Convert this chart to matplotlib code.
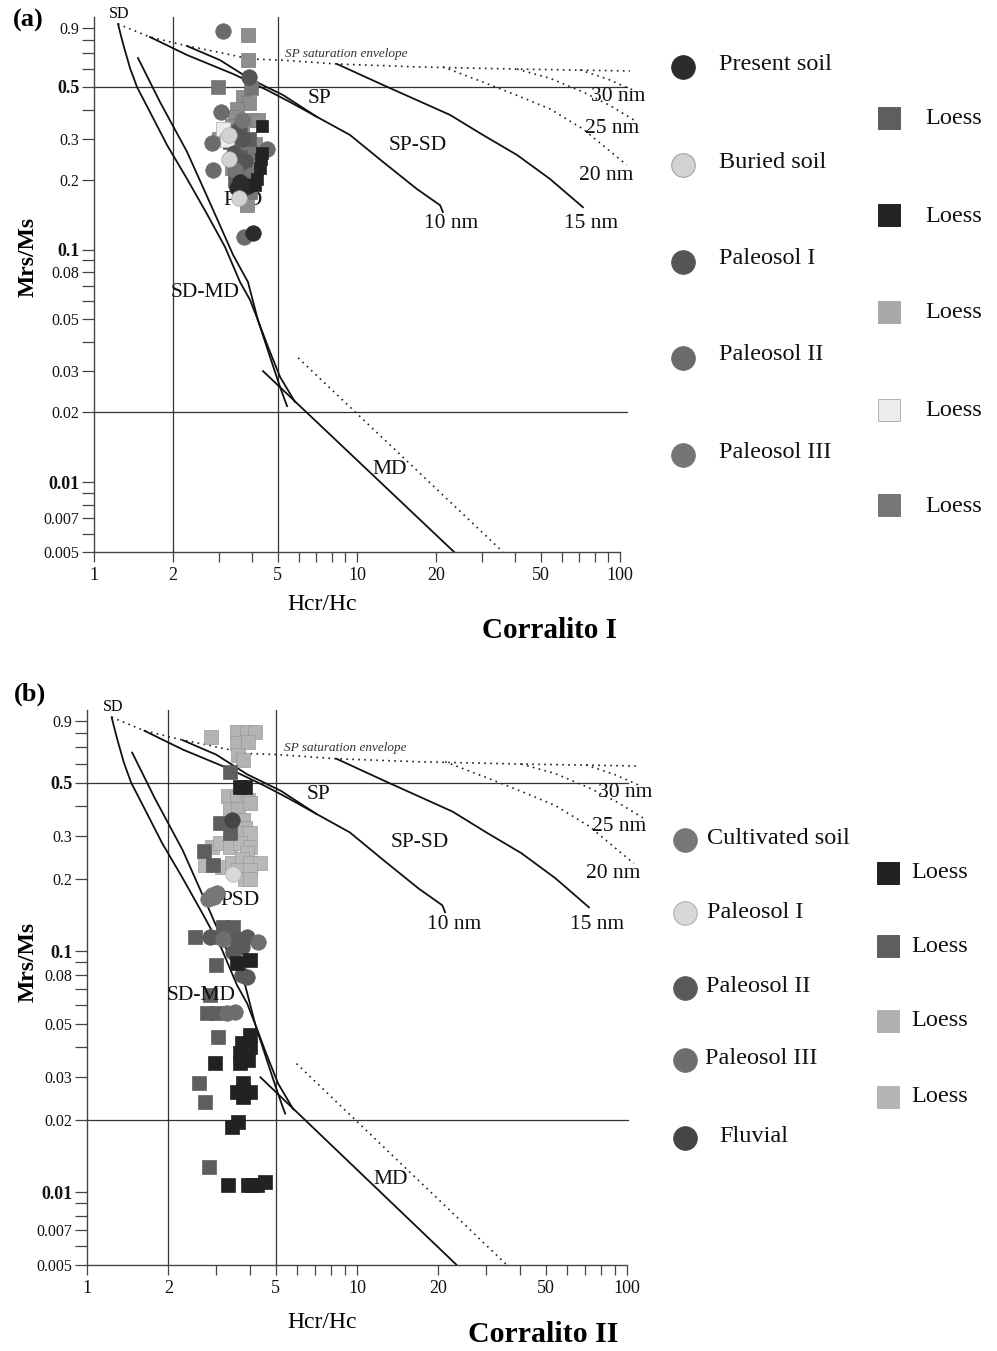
import numpy as np
import matplotlib
matplotlib.use("Agg")
import matplotlib.pyplot as plt

plt.rcParams['font.family'] = ['Liberation Serif', 'DejaVu Serif']

# ---------------- reference curves (Hcr/Hc, Mrs/Ms) ----------------
sd_md1_x = [1.234, 1.27, 1.30, 1.34, 1.37, 1.457, 1.633, 1.895, 2.26, 2.69, 3.15, 3.59, 3.92, 4.20, 4.59, 5.10, 5.81]
sd_md1_y = [0.933, 0.82, 0.743, 0.66, 0.604, 0.50, 0.390, 0.2815, 0.201, 0.142, 0.1025, 0.0725, 0.0607, 0.0497, 0.0381, 0.0283, 0.0221]
sd_md2_x = [1.47, 1.782, 2.26, 2.83, 3.38, 3.85, 4.20, 4.67, 5.10, 5.42]
sd_md2_y = [0.666, 0.431, 0.2626, 0.149, 0.0947, 0.0725, 0.0497, 0.0345, 0.0256, 0.0212]
md_x = [4.39, 23.4]
md_y = [0.030, 0.005]
md_dot_x = [5.97, 35.9]
md_dot_y = [0.0342, 0.005]
env_x = [1.234, 1.633, 2.18, 2.94, 3.92, 5.10, 8.39, 16.9, 40.6, 109]
env_y = [0.933, 0.820, 0.758, 0.707, 0.660, 0.653, 0.628, 0.610, 0.597, 0.586]
nm10_x = [1.633, 2.26, 3.38, 4.55, 5.56, 7.04, 9.40, 12.56, 16.9, 20.7, 21.2]
nm10_y = [0.820, 0.686, 0.569, 0.485, 0.431, 0.372, 0.311, 0.238, 0.182, 0.155, 0.145]
nm10b_x = [2.26, 3.01, 3.92, 5.23, 7.04]
nm10b_y = [0.750, 0.653, 0.541, 0.462, 0.372]
nm15_x = [8.39, 12.56, 22.6, 30.1, 40.6, 54.2, 72.3]
nm15_y = [0.628, 0.51, 0.379, 0.311, 0.255, 0.201, 0.152]
nm20_x = [21.2, 30.1, 40.6, 54.2, 72.3, 106]
nm20_y = [0.610, 0.525, 0.46, 0.402, 0.330, 0.231]
nm25_x = [40.6, 54.2, 72.3, 92.0, 116]
nm25_y = [0.597, 0.545, 0.476, 0.415, 0.354]
nm30_x = [70.5, 90.0, 112]
nm30_y = [0.592, 0.54, 0.485]

# ---------------- panel (a) data ----------------
a_present_x = [3.50, 3.69, 3.85, 4.02, 3.60]
a_present_y = [0.183, 0.183, 0.188, 0.118, 0.195]
a_buried_x = [3.26, 3.56, 3.25]
a_buried_y = [0.245, 0.166, 0.31]
a_pal1_x = [3.88, 3.55, 3.70, 3.40, 3.75]
a_pal1_y = [0.552, 0.33, 0.30, 0.26, 0.24]
a_pal2_x = [3.09, 3.04, 2.81, 2.83, 4.55, 3.72]
a_pal2_y = [0.87, 0.392, 0.287, 0.22, 0.27, 0.113]
a_pal3_x = [3.45, 3.65, 3.95]
a_pal3_y = [0.22, 0.36, 0.21]
a_loess1_x = [3.45, 3.75, 3.60, 3.30, 3.90]
a_loess1_y = [0.20, 0.22, 0.25, 0.29, 0.30]
a_loess2_x = [4.35, 4.35, 4.30, 4.28, 4.17, 4.10]
a_loess2_y = [0.339, 0.26, 0.245, 0.225, 0.202, 0.19]
a_loess3_x = [3.85, 3.85, 3.69, 3.88, 3.50, 3.44, 3.99, 4.20, 3.35, 3.65, 3.00, 3.35, 3.60,
              4.09, 3.65, 3.50, 3.82, 3.44, 3.65, 3.35, 3.85, 3.69, 3.85, 3.69, 3.82]
a_loess3_y = [0.839, 0.651, 0.453, 0.428, 0.403, 0.373, 0.362, 0.362, 0.339, 0.339, 0.30, 0.30, 0.30,
              0.284, 0.284, 0.279, 0.27, 0.26, 0.25, 0.225, 0.225, 0.214, 0.214, 0.194, 0.155]
a_loess4_x = [3.10, 3.20]
a_loess4_y = [0.33, 0.295]
a_loess5_x = [2.96, 3.95, 3.45, 3.70, 3.95, 3.55, 3.80, 3.92]
a_loess5_y = [0.50, 0.495, 0.32, 0.27, 0.26, 0.23, 0.188, 0.176]

# ---------------- panel (b) data ----------------
b_cult_x = [2.81, 2.91, 3.03, 2.95]
b_cult_y = [0.164, 0.171, 0.175, 0.168]
b_pal1_x = [3.48]
b_pal1_y = [0.208]
b_pal2_x = [2.86, 3.60, 3.92, 3.76, 3.48, 3.76, 3.92]
b_pal2_y = [0.114, 0.112, 0.115, 0.104, 0.0995, 0.080, 0.078]
b_pal3_x = [4.31, 3.31, 3.54, 3.20]
b_pal3_y = [0.109, 0.0556, 0.056, 0.112]
b_fluv_x = [3.45]
b_fluv_y = [0.35]
b_loess1_x = [3.70, 3.86, 4.03, 3.60, 4.03, 3.76, 4.03, 3.70, 3.96, 3.70, 2.99, 3.79, 3.60, 4.03,
              3.79, 3.79, 3.63, 3.45, 3.34, 3.96, 4.27, 4.58, 4.10]
b_loess1_y = [0.48, 0.48, 0.092, 0.0896, 0.045, 0.0417, 0.040, 0.038, 0.0355, 0.0345, 0.0345, 0.0284,
              0.0261, 0.0261, 0.0249, 0.0266, 0.0196, 0.0187, 0.0107, 0.0107, 0.0107, 0.011, 0.0107]
b_loess2_x = [3.39, 3.12, 3.39, 2.72, 2.93, 2.515, 3.20, 3.48, 3.03, 3.31, 3.01, 2.86, 2.79, 3.03,
              3.06, 2.60, 2.74, 2.84]
b_loess2_y = [0.555, 0.34, 0.31, 0.26, 0.228, 0.115, 0.126, 0.126, 0.115, 0.115, 0.088, 0.066,
              0.0556, 0.0556, 0.044, 0.0284, 0.0237, 0.0128]
b_loess3_x = [2.89, 3.60, 3.92, 4.20, 3.60, 3.96, 3.63, 3.79, 3.34, 3.60, 3.96, 3.39, 3.63, 4.03,
              3.79, 3.86, 3.63]
b_loess3_y = [0.77, 0.81, 0.81, 0.81, 0.73, 0.74, 0.65, 0.62, 0.44, 0.43, 0.425, 0.39, 0.39, 0.41,
              0.35, 0.325, 0.31]
b_loess4_x = [4.03, 2.91, 3.12, 3.39, 3.70, 4.03, 3.92, 2.74, 3.17, 3.45, 3.76, 4.03, 4.38, 3.63,
              4.03, 3.86, 4.03]
b_loess4_y = [0.31, 0.27, 0.28, 0.27, 0.28, 0.27, 0.256, 0.228, 0.224, 0.233, 0.24, 0.233, 0.233,
              0.218, 0.218, 0.20, 0.20]

x_major = [1, 2, 5, 10, 20, 50, 100]
x_minor = [3, 4, 6, 7, 8, 9, 30, 40, 60, 70, 80, 90]
y_major = [0.005, 0.007, 0.01, 0.02, 0.03, 0.05, 0.08, 0.1, 0.2, 0.3, 0.5, 0.9]
y_labels = ['0.005', '0.007', '0.01', '0.02', '0.03', '0.05', '0.08', '0.1', '0.2', '0.3', '0.5', '0.9']
y_bold = ['0.01', '0.1', '0.5']
y_minor = [0.006, 0.008, 0.009, 0.04, 0.06, 0.07, 0.09, 0.4, 0.6, 0.7, 0.8]

W, H = 997, 1351
fig = plt.figure(figsize=(W / 100, H / 100), dpi=100)


def rect(left, right, top, bottom):
    return [left / W, 1 - bottom / H, (right - left) / W, (bottom - top) / H]


AX_COL = '#444444'


def make_axes(r, hline_end):
    ax = fig.add_axes(r)
    ax.set_xscale('log')
    ax.set_yscale('log')
    ax.set_xlim(1, 100)
    ax.set_ylim(0.005, 1.0)
    ax.patch.set_alpha(0)
    for s in ['top', 'right']:
        ax.spines[s].set_visible(False)
    for s in ['left', 'bottom']:
        ax.spines[s].set_color(AX_COL)
        ax.spines[s].set_linewidth(1.0)
    ax.set_xticks(x_major)
    ax.set_xticks(x_minor, minor=True)
    ax.set_xticklabels([str(v) for v in x_major], fontsize=13)
    ax.set_yticks(y_major)
    ax.set_yticks(y_minor, minor=True)
    ax.set_yticklabels(y_labels, fontsize=11.5)
    for t in ax.get_yticklabels():
        if t.get_text() in y_bold:
            t.set_fontweight('bold')
            t.set_fontsize(13)
    ax.tick_params(which='both', direction='out', width=0.9, color=AX_COL, labelcolor='#111111')
    ax.tick_params(axis='x', which='both', length=7.5, pad=3)
    ax.tick_params(axis='y', which='both', length=8.5, pad=2)
    # reference grid lines
    for xv in [2, 5]:
        ax.axvline(xv, color='#333333', lw=0.9, zorder=1)
    for yv in [0.5, 0.02]:
        ax.plot([1, hline_end], [yv, yv], color='#333333', lw=0.9, zorder=1, clip_on=False)
    # curves
    kw = dict(color='#111111', lw=1.3, zorder=2, clip_on=False)
    dk = dict(color='#222222', lw=1.2, ls=(0, (1, 2.6)), zorder=2, clip_on=False)
    ax.plot(sd_md1_x, sd_md1_y, **kw)
    ax.plot(sd_md2_x, sd_md2_y, **kw)
    ax.plot(md_x, md_y, **kw)
    ax.plot(md_dot_x, md_dot_y, **dk)
    ax.plot(env_x, env_y, **dk)
    ax.plot(nm10_x, nm10_y, **kw)
    ax.plot(nm10b_x, nm10b_y, **kw)
    ax.plot(nm15_x, nm15_y, **kw)
    ax.plot(nm20_x, nm20_y, **dk)
    ax.plot(nm25_x, nm25_y, **dk)
    ax.plot(nm30_x, nm30_y, **dk)
    # annotations
    tk = dict(fontsize=15.5, ha='center', va='center', color='#111111', zorder=6)
    ax.text(1.25, 1.03, 'SD', fontsize=11.5, ha='center', va='center', clip_on=False)
    ax.text(7.23, 0.448, 'SP', **tk)
    ax.text(17.06, 0.281, 'SP-SD', **tk)
    ax.text(22.8, 0.129, '10 nm', **tk)
    ax.text(77.6, 0.129, '15 nm', **tk)
    ax.text(98.3, 0.453, '30 nm', clip_on=False, **tk)
    ax.text(93.3, 0.330, '25 nm', clip_on=False, **tk)
    ax.text(88.8, 0.209, '20 nm', clip_on=False, **tk)
    ax.text(3.69, 0.163, 'PSD', fontsize=15.5, ha='center', va='center', color='#111111', zorder=2)
    ax.text(2.64, 0.0656, 'SD-MD', **tk)
    ax.text(13.35, 0.0113, 'MD', **tk)
    ax.text(9.08, 0.693, 'SP saturation envelope', fontsize=9.5, style='italic',
            ha='center', va='center', color='#333333')
    return ax


def pts(ax, x, y, marker, color, size, ec=None):
    ax.scatter(x, y, s=size, marker=marker, c=color,
               edgecolors=ec if ec else color, linewidths=0.5, zorder=4, clip_on=False)


# ---------------- panel (a) ----------------
axa = make_axes(rect(94, 620, 17, 552), 106)
SQ, CI = 115, 125
pts(axa, a_loess3_x, a_loess3_y, 's', '#8e8e8e', SQ, '#7a7a7a')
pts(axa, a_loess5_x, a_loess5_y, 's', '#767676', SQ)
pts(axa, a_loess1_x, a_loess1_y, 's', '#5e5e5e', SQ)
pts(axa, a_loess4_x, a_loess4_y, 's', '#ececec', SQ, '#b0b0b0')
pts(axa, a_pal1_x, a_pal1_y, 'o', '#555555', CI)
pts(axa, a_pal2_x, a_pal2_y, 'o', '#6b6b6b', CI)
pts(axa, a_pal3_x, a_pal3_y, 'o', '#757575', CI)
pts(axa, a_present_x, a_present_y, 'o', '#2b2b2b', CI)
pts(axa, a_buried_x, a_buried_y, 'o', '#d2d2d2', CI, '#aaaaaa')
pts(axa, a_loess2_x, a_loess2_y, 's', '#232323', 80)

# ---------------- panel (b) ----------------
axb = make_axes(rect(87, 627, 710, 1265), 101)
pts(axb, b_loess3_x, b_loess3_y, 's', '#b3b3b3', SQ, '#999999')
pts(axb, b_loess4_x, b_loess4_y, 's', '#b8b8b8', SQ, '#9c9c9c')
pts(axb, b_loess2_x, b_loess2_y, 's', '#5e5e5e', SQ)
pts(axb, b_cult_x, b_cult_y, 'o', '#777777', CI)
pts(axb, b_pal1_x, b_pal1_y, 'o', '#d8d8d8', CI, '#b0b0b0')
pts(axb, b_pal2_x, b_pal2_y, 'o', '#5a5a5a', CI)
pts(axb, b_pal3_x, b_pal3_y, 'o', '#6e6e6e', CI)
pts(axb, b_fluv_x, b_fluv_y, 'o', '#454545', CI)
pts(axb, b_loess1_x, b_loess1_y, 's', '#222222', SQ)

# ---------------- overlay: legends and labels ----------------
ov = fig.add_axes([0, 0, 1, 1])
ov.set_xlim(0, W)
ov.set_ylim(H, 0)
ov.axis('off')
ov.patch.set_alpha(0)

LT = dict(fontsize=17.5, ha='left', va='center', color='#111111')

a_circ_names = ['Present soil', 'Buried soil', 'Paleosol I', 'Paleosol II', 'Paleosol III']
a_circ_cols = ['#2b2b2b', '#d2d2d2', '#555555', '#6b6b6b', '#757575']
a_circ_rows = [67, 165, 262, 358, 455]
for name, col, yy in zip(a_circ_names, a_circ_cols, a_circ_rows):
    ov.plot(683, yy, 'o', ms=17, mfc=col, mec='#999999' if col == '#d2d2d2' else col, mew=0.7)
    ov.text(719, yy - 3, name, **LT)
a_sq_cols = ['#5e5e5e', '#232323', '#a9a9a9', '#ececec', '#767676']
a_sq_rows = [118, 215, 312, 410, 505]
for col, yy in zip(a_sq_cols, a_sq_rows):
    ov.plot(889, yy, 's', ms=16.5, mfc=col, mec='#b0b0b0' if col == '#ececec' else col, mew=0.7)
    ov.text(925, yy + 1, 'Loess', **LT)

b_circ_names = ['Cultivated soil', 'Paleosol I', 'Paleosol II', 'Paleosol III', 'Fluvial']
b_circ_cols = ['#777777', '#d8d8d8', '#5a5a5a', '#6e6e6e', '#454545']
b_circ_rows = [840, 913, 988, 1060, 1138]
b_circ_tx = [707, 707, 706, 705, 719]
for name, col, yy, tx in zip(b_circ_names, b_circ_cols, b_circ_rows, b_circ_tx):
    ov.plot(685, yy, 'o', ms=17, mfc=col, mec='#aaaaaa' if col == '#d8d8d8' else col, mew=0.7)
    ov.text(tx, yy - 1, name, **LT)
b_sq_cols = ['#222222', '#5e5e5e', '#b0b0b0', '#b5b5b5']
b_sq_rows = [873, 946, 1021, 1097]
for col, yy in zip(b_sq_cols, b_sq_rows):
    ov.plot(888, yy, 's', ms=16.5, mfc=col, mec=col, mew=0.7)
    ov.text(911, yy, 'Loess', **LT)

ov.text(28, 20, '(a)', fontsize=19, fontweight='bold', ha='center', va='center')
ov.text(30, 694, '(b)', fontsize=19, fontweight='bold', ha='center', va='center')
ov.text(28, 257, 'Mrs/Ms', fontsize=17, fontweight='bold', rotation=90, ha='center', va='center')
ov.text(28, 962, 'Mrs/Ms', fontsize=17, fontweight='bold', rotation=90, ha='center', va='center')
ov.text(322, 604, 'Hcr/Hc', fontsize=17, ha='center', va='center')
ov.text(322, 1323, 'Hcr/Hc', fontsize=17, ha='center', va='center')
ov.text(549, 630, 'Corralito I', fontsize=21, fontweight='bold', ha='center', va='center')
ov.text(543, 1335, 'Corralito II', fontsize=21.5, fontweight='bold', ha='center', va='center')

fig.savefig('out.png', dpi=100)
